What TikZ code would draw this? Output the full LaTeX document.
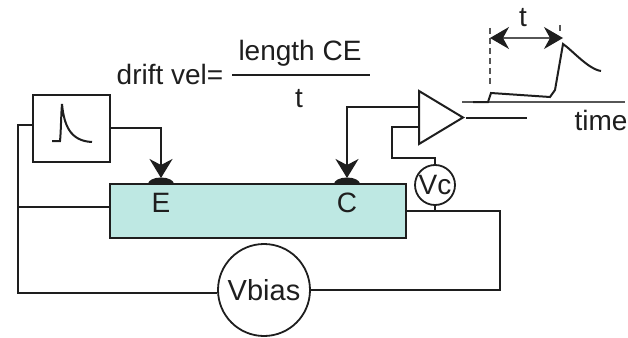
\documentclass[tikz,border=0pt]{standalone}
\usepackage{fontspec}
\setmainfont{Liberation Sans}
\usetikzlibrary{arrows.meta,shapes.geometric}
\definecolor{sample}{RGB}{190,232,227}
\definecolor{wire}{RGB}{30,30,30}
\begin{document}
\begin{tikzpicture}[
   x=1pt,y=-1pt,
   font=\fontsize{28}{30}\selectfont,
   every node/.style={text=wire},
   line/.style={draw=wire,line width=2pt},
   thin line/.style={draw=wire!75,line width=1.3pt},
   to/.style={line,-{Stealth[length=19pt,width=23pt,inset=6pt]}},
   meter/.style={circle,draw=wire,line width=1.8pt,inner sep=0pt,fill=white},
   pulser/.style={draw=wire,line width=2pt,minimum width=77pt,minimum height=67pt,inner sep=0pt},
   bar/.style={draw=wire,line width=2pt,fill=sample,minimum width=296pt,minimum height=54pt,inner sep=0pt},
   amplifier/.style={isosceles triangle,isosceles triangle stretches,draw=wire,line width=2pt,fill=white,minimum width=53pt,minimum height=44pt,inner sep=0pt},
   label/.style={inner sep=0pt}]
\useasboundingbox (0,0) rectangle (628,337);
\node[bar] (bar) at (258,211) {};
\node[pulser] (gen) at (71.5,128) {};
\node[meter,minimum size=92pt,font=\fontsize{29}{30}\selectfont] (Vbias) at (264,290) {Vbias};
\node[meter,minimum size=40pt] (Vc) at (435,185) {Vc};
\node[amplifier,anchor=west] (amp) at (418,117.5) {};
\node[label] (E) at (161,203) {E};
\node[label] (C) at (347,203) {C};
\node[label,anchor=base] (drift) at (170,84) {drift vel=};
\node[label,anchor=base] (length) at (300,60) {length CE};
\node[label,anchor=base] (tfrac) at (299,107) {t};
\node[label,anchor=base] (tpulse) at (523,27) {t};
\node[label,anchor=base] (time) at (601,130) {time};
% contacts
\fill[wire] (148,184) arc[start angle=180,end angle=360,x radius=13,y radius=6.5] -- cycle;
\fill[wire] (334,184) arc[start angle=180,end angle=360,x radius=13,y radius=6.5] -- cycle;
\coordinate (Earrow) at (161,178);
\coordinate (Carrow) at (347,178);
% fraction rule
\coordinate (fracl) at (232,75);
\coordinate (fracr) at (370,75);
\draw[line] (fracl) -- (fracr);
% wiring
\coordinate (genin) at (33,125);
\coordinate (barin) at (110,207);
\coordinate (left) at (18,207);
\coordinate (barout) at (407,211);
\coordinate (ampin1) at (418,107);
\coordinate (ampin2) at (418,127);
\coordinate (ampout) at (527,117.5);
\coordinate (Vcup) at (392,158);
\draw[to] (gen.east) -| (Earrow);
\draw[to] (ampin1) -| (Carrow);
\draw[line] (genin) -| (18,293) -- (Vbias.west |- 0,293);
\draw[line] (left) -- (barin);
\draw[line] (barout) -| (500,290) -- (Vbias.east);
\draw[line] (ampin2) -| (Vcup) -| (Vc.north);
\draw[line] (Vc.south) -- (Vc.south |- barout);
\draw[line] (amp.east) -- (ampout);
% pulse in the box
\draw[line] (52,141) -- (60,141) .. controls (61,132) and (61,115) .. (62,104)
   .. controls (64,125) and (70,141) .. (92,142);
% time axis and trace
\coordinate (axisl) at (462,102);
\coordinate (axisr) at (625,102);
\draw[thin line] (axisl) -- (axisr);
\draw[line] (473,102) -- (488,102) -- (491,93) -- (550,97) -- (555,90) -- (563,44)
   .. controls (572,50) and (588,69) .. (601,71);
% time marker
\coordinate (markl) at (490,38);
\coordinate (markr) at (563,38);
\draw[thin line,dashed,dash pattern=on 6pt off 4pt] (490,28) -- (490,84);
\draw[thin line,dashed,dash pattern=on 6pt off 4pt] (560,25) -- (560,32);
\draw[thin line,{Stealth[length=19pt,width=22pt,inset=6pt,wire]}-{Stealth[length=19pt,width=22pt,inset=6pt,wire]}] (markl) -- (markr);
\end{tikzpicture}
\end{document}
